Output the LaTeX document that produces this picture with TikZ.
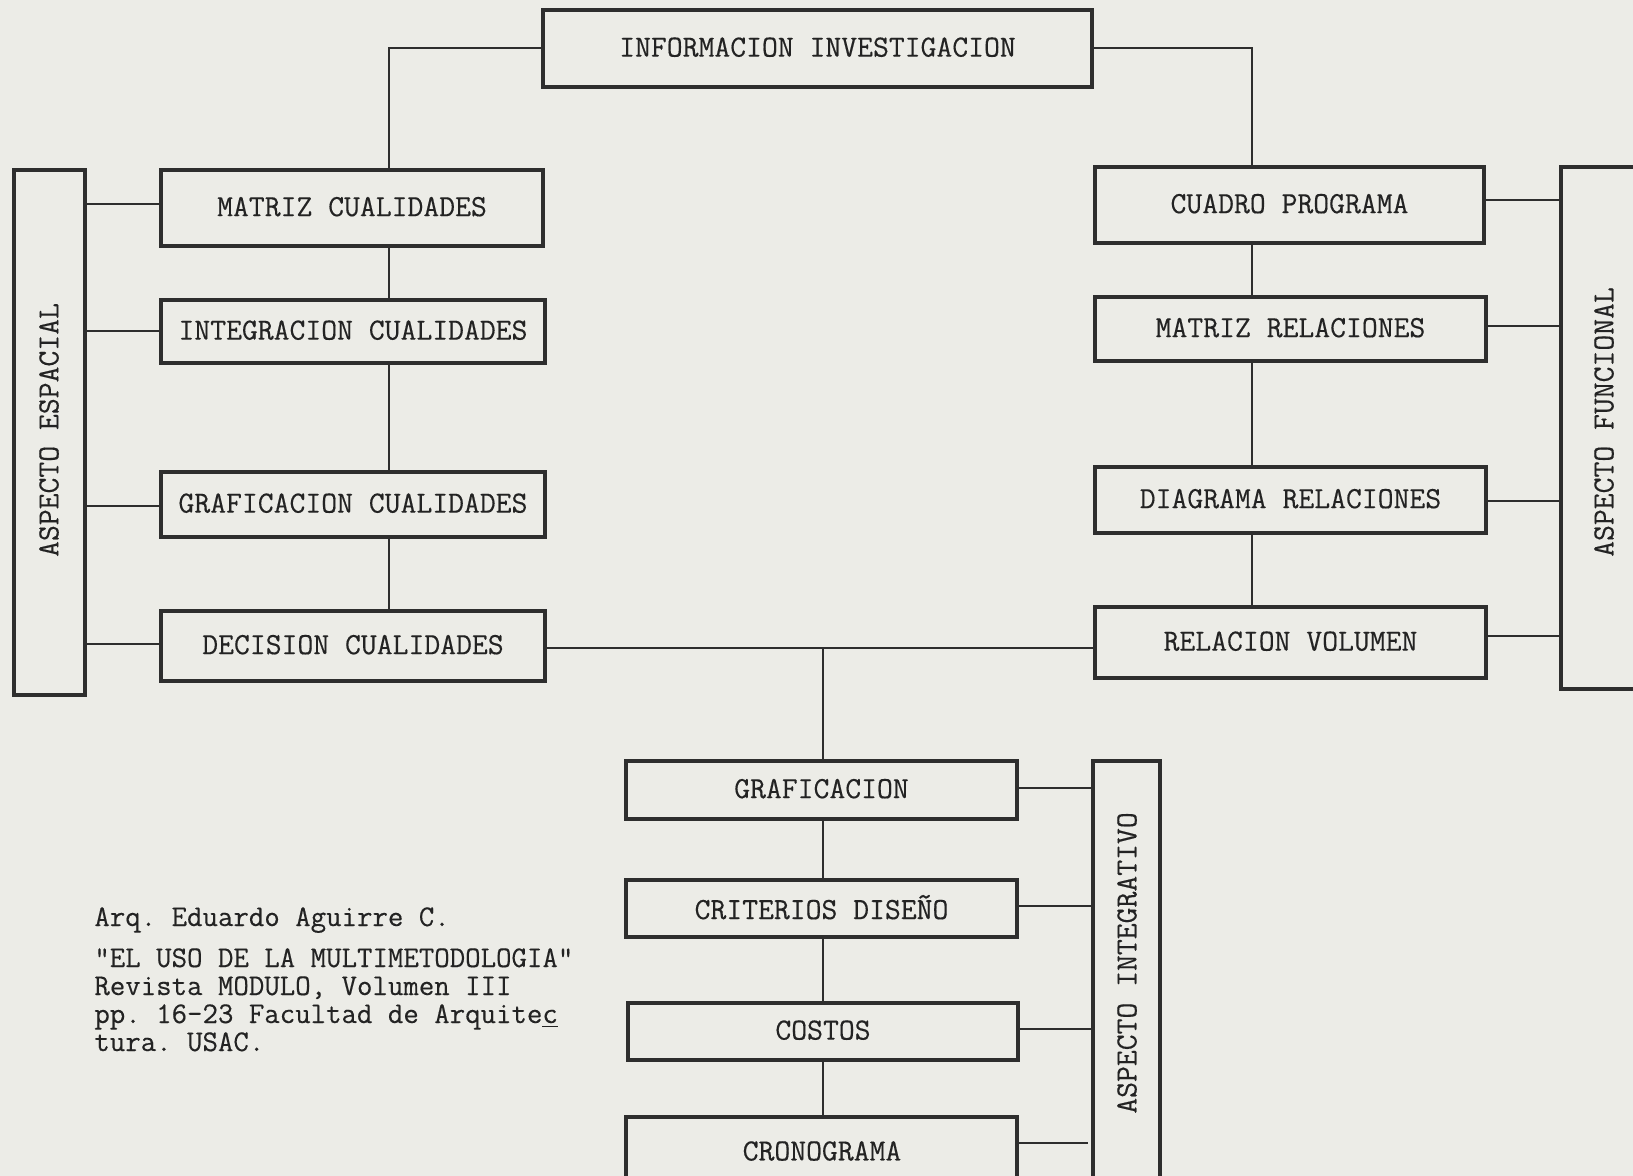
\documentclass[tikz,border=0pt]{standalone}
\usepackage{fontspec}
\newfontfamily\tw{Latin Modern Mono}[FakeBold=0.35]
\frenchspacing
\definecolor{paper}{HTML}{ECECE7}
\definecolor{ink}{HTML}{2E2E2E}
\definecolor{txt}{HTML}{232323}
\newcommand\boxnode[6]{%
  \node[boxs, minimum width={(#4-#2)*0.5pt}, minimum height={(#5-#3)*0.5pt}]
    (#1) at ({(#2+#4)/2},{(#3+#5)/2}) {\raisebox{1.5pt}{#6}};}
\tikzset{
  boxs/.style={draw=ink, line width=2pt, rectangle, inner sep=0pt, outer sep=0pt,
    text=txt, font=\tw\fontsize{15.4}{18}\selectfont},
  conn/.style={draw=ink, line width=1.2pt},
  vlabel/.style={rotate=90, text=txt, inner sep=0pt, font=\tw\fontsize{15.4}{18}\selectfont},
  note/.style={anchor=base west, text=txt, inner sep=0pt, font=\tw\fontsize{15}{18}\selectfont}
}
\begin{document}
\begin{tikzpicture}[x=0.5pt,y=-0.5pt]
\useasboundingbox (0,0) rectangle (1633,1176);
\fill[paper] (0,0) rectangle (1633,1176);
\clip (0,0) rectangle (1633,1176);
% boxes
\boxnode{info}{543}{10}{1092}{87}{INFORMACION INVESTIGACION}
\boxnode{mc}{161}{170}{543}{246}{MATRIZ CUALIDADES}
\boxnode{ic}{161}{300}{545}{363}{INTEGRACION CUALIDADES}
\boxnode{gc}{161}{472}{545}{537}{GRAFICACION CUALIDADES}
\boxnode{dc}{161}{611}{545}{681}{DECISION CUALIDADES}
\boxnode{esp}{14}{170}{85}{695}{}
\boxnode{cp}{1095}{167}{1484}{243}{CUADRO PROGRAMA}
\boxnode{mr}{1095}{297}{1486}{361}{MATRIZ RELACIONES}
\boxnode{dr}{1095}{467}{1486}{533}{DIAGRAMA RELACIONES}
\boxnode{rv}{1095}{607}{1486}{678}{RELACION VOLUMEN}
\boxnode{fun}{1561}{167}{1660}{689}{}
\boxnode{gr}{626}{761}{1017}{819}{GRAFICACION}
\boxnode{cd}{626}{880}{1017}{937}{CRITERIOS DISEÑO}
\boxnode{co}{628}{1003}{1018}{1060}{COSTOS}
\boxnode{cr}{626}{1117}{1017}{1195}{}
\node[text=txt, inner sep=0pt, font=\tw\fontsize{15.4}{18}\selectfont] (crt) at (822,1151) {CRONOGRAMA};
\boxnode{int}{1093}{761}{1160}{1195}{}
% vertical labels
\node[vlabel] (espl) at (49,430) {ASPECTO ESPACIAL};
\node[vlabel] (funl) at (1604,422) {ASPECTO FUNCIONAL};
\node[vlabel] (intl) at (1127,963) {ASPECTO INTEGRATIVO};
% guide coordinates
\coordinate (lx) at (389,0);
\coordinate (rx) at (1252,0);
\coordinate (bx) at (823,0);
\coordinate (hy) at (0,648);
\coordinate (crc) at (1088,1143);
% top connectors
\draw[conn] (info.west |- 0,48) -| (lx |- mc.north);
\draw[conn] (info.east |- 0,48) -| (rx |- cp.north);
% left chain
\draw[conn] (lx |- mc.south) -- (lx |- ic.north);
\draw[conn] (lx |- ic.south) -- (lx |- gc.north);
\draw[conn] (lx |- gc.south) -- (lx |- dc.north);
% right chain
\draw[conn] (rx |- cp.south) -- (rx |- mr.north);
\draw[conn] (rx |- mr.south) -- (rx |- dr.north);
\draw[conn] (rx |- dr.south) -- (rx |- rv.north);
% middle link
\draw[conn] (dc.east |- hy) -- (rv.west |- hy);
\draw[conn] (bx |- hy) -- (bx |- gr.north);
% bottom chain
\draw[conn] (bx |- gr.south) -- (bx |- cd.north);
\draw[conn] (bx |- cd.south) -- (bx |- co.north);
\draw[conn] (bx |- co.south) -- (bx |- cr.north);
% side links left
\draw[conn] (esp.east |- 0,204) -- (mc.west |- 0,204);
\draw[conn] (esp.east |- 0,331) -- (ic.west |- 0,331);
\draw[conn] (esp.east |- 0,506) -- (gc.west |- 0,506);
\draw[conn] (esp.east |- 0,644) -- (dc.west |- 0,644);
% side links right
\draw[conn] (cp.east |- 0,200) -- (fun.west |- 0,200);
\draw[conn] (mr.east |- 0,326) -- (fun.west |- 0,326);
\draw[conn] (dr.east |- 0,501) -- (fun.west |- 0,501);
\draw[conn] (rv.east |- 0,636) -- (fun.west |- 0,636);
% side links bottom
\draw[conn] (gr.east |- 0,788) -- (int.west |- 0,788);
\draw[conn] (cd.east |- 0,906) -- (int.west |- 0,906);
\draw[conn] (co.east |- 0,1029) -- (int.west |- 0,1029);
\draw[conn] (cr.east |- crc) -- (crc);
% note
\node[note] (n1) at (94,926) {Arq. Eduardo Aguirre C.};
\node[note] (n2) at (94,967) {"EL USO DE LA MULTIMETODOLOGIA"};
\node[note] (n3) at (94,995) {Revista MODULO, Volumen III};
\node[note] (n4) at (94,1023) {pp. 16-23 Facultad de Arquite\underline{c}};
\node[note] (n5) at (94,1051) {tura. USAC.};
\end{tikzpicture}
\end{document}
